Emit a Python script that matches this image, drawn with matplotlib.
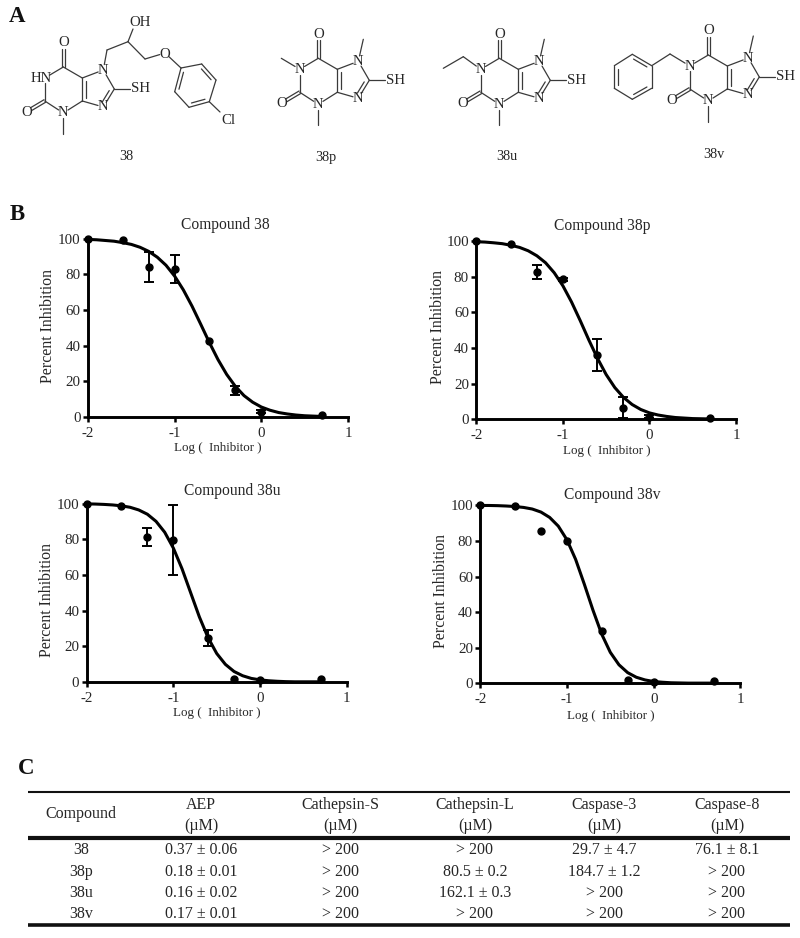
import matplotlib
matplotlib.use('Agg')
import matplotlib.pyplot as plt
import numpy as np

plt.rcParams['font.family'] = ['Liberation Serif', 'DejaVu Serif']
plt.rcParams['axes.unicode_minus'] = False

W, H = 800, 938
INK = '#262626'
LINE_INK = '#3a3a3a'
ATOM_SIZE = 10.6

# --- dose response data ---
compounds = ['38', '38p', '38u', '38v']
log_dose = [-2, -1.6, -1.3, -1, -0.6, -0.3, 0, 0.7]
inhibition = {
    '38': [100, 99.5, 84, 83, 42.5, 15, 3, 1],
    '38p': [100, 98.5, 82.5, 78.5, 36, 6.5, 1.5, 1],
    '38u': [100, 98.5, 81.5, 79.5, 24.5, 1.5, 1, 1.5],
    '38v': [100, 99.5, 85.5, 80, 29.5, 2, 0.5, 1.2],
}
errors = {
    '38': [0, 0, 8.5, 8, 0, 2.5, 1, 0],
    '38p': [0, 0, 4, 1, 9, 6, 1, 0],
    '38u': [0, 0, 5, 19.5, 4.5, 0, 0, 0],
    '38v': [0, 0, 0, 0, 0, 0, 0, 0],
}

# fitted curves, read at every 0.1 log unit from -2 to 0.7
curve_x = [-2.0, -1.9, -1.8, -1.7, -1.6, -1.5, -1.4, -1.3, -1.2, -1.1,
           -1.0, -0.9, -0.8, -0.7, -0.6, -0.5, -0.4, -0.3, -0.2, -0.1,
           0.0, 0.1, 0.2, 0.3, 0.4, 0.5, 0.6, 0.7]
curve_y = {
    '38': [99.6, 99.4, 99.0, 98.6, 97.8, 96.8, 95.2, 92.9, 89.6, 85.1,
           79.0, 71.3, 62.2, 52.1, 41.8, 32.2, 23.9, 17.2, 12.0, 8.3,
           5.6, 3.8, 2.5, 1.7, 1.1, 0.7, 0.5, 0.3],
    '38p': [99.6, 99.4, 99.0, 98.5, 97.6, 96.4, 94.5, 91.7, 87.8, 82.2,
            74.9, 65.8, 55.4, 44.5, 34.2, 25.1, 17.8, 12.3, 8.3, 5.5,
            3.6, 2.4, 1.6, 1.0, 0.7, 0.4, 0.3, 0.2],
    '38u': [99.9, 99.8, 99.6, 99.3, 98.8, 98.0, 96.5, 94.1, 90.1, 84.0,
            75.1, 63.5, 50.0, 36.5, 24.9, 16.0, 9.9, 5.9, 3.5, 2.0,
            1.2, 0.7, 0.4, 0.2, 0.1, 0.1, 0.1, 0.1],
    '38v': [99.9, 99.9, 99.8, 99.6, 99.3, 98.8, 97.9, 96.2, 93.2, 88.3,
            80.6, 69.6, 55.7, 41.1, 27.7, 17.4, 10.4, 6.0, 3.4, 1.9,
            1.0, 0.6, 0.3, 0.2, 0.1, 0.1, 0.1, 0.1],
}

x_ticks = [-2, -1, 0, 1]
y_ticks = [0, 20, 40, 60, 80, 100]

# --- table data ---
table_head = ['AEP', 'Cathepsin-S', 'Cathepsin-L', 'Caspase-3', 'Caspase-8']
table_rows = [
    ['38', '0.37 ± 0.06', '> 200', '> 200', '29.7 ± 4.7', '76.1 ± 8.1'],
    ['38p', '0.18 ± 0.01', '> 200', '80.5 ± 0.2', '184.7 ± 1.2', '> 200'],
    ['38u', '0.16 ± 0.02', '> 200', '162.1 ± 0.3', '> 200', '> 200'],
    ['38v', '0.17 ± 0.01', '> 200', '> 200', '> 200', '> 200'],
]

# --- layout in pixels ---
# left, right, y of 100, y of 0
AXES_BOX = {
    '38': (88, 348, 238.7, 417),
    '38p': (476.3, 736, 241, 419.3),
    '38u': (86.7, 346.7, 503.7, 682),
    '38v': (480.3, 740.3, 505.3, 683.3),
}
# title, xlabel, ylabel centres
LABEL_POS = {
    '38': ((225.5, 225), (218, 448), (47.7, 326)),
    '38p': ((602.3, 226), (606.7, 450.7), (437.7, 326.7)),
    '38u': ((232.7, 490.7), (217.3, 713.3), (47.3, 600)),
    '38v': ((612.3, 495), (610.7, 715.7), (440.7, 590.7)),
}
TABLE_COLS = [81, 201, 340, 475, 604, 727]
TABLE_ROW_Y = [850, 871.7, 892.7, 914]

# xanthine core, pixels relative to C6
CORE = {
    'C6': (0, 0), 'O6': (0, -24), 'N1': (-18.5, 11), 'C2': (-18.5, 34),
    'N3': (0, 46), 'C4': (19, 34), 'C5': (19, 11), 'N7': (40, 3),
    'C8': (51, 22), 'N9': (40, 40), 'SH': (77, 22), 'O2': (-37, 45),
    'Me3': (0, 67), 'Me7': (45, -19), 'Me1': (-37, 0),
}
TRIM = {'N1': 5.5, 'N3': 5.5, 'N7': 5.5, 'N9': 5.5, 'O6': 6, 'O2': 6, 'SH': 10}
CORE_BONDS = [('C6', 'N1'), ('N1', 'C2'), ('C2', 'N3'), ('N3', 'C4'), ('C4', 'C5'),
              ('C5', 'C6'), ('C5', 'N7'), ('N7', 'C8'), ('C8', 'N9'), ('N9', 'C4'),
              ('C8', 'SH'), ('C6', 'O6'), ('C2', 'O2'), ('N3', 'Me3')]

fig = plt.figure(figsize=(W / 100, H / 100), dpi=100, facecolor='white')

over = fig.add_axes([0, 0, 1, 1], zorder=5)
over.set_xlim(0, W)
over.set_ylim(H, 0)
over.axis('off')
over.patch.set_alpha(0)


def put(x, y, s, size=11.5, **kw):
    kw.setdefault('ha', 'center')
    kw.setdefault('va', 'center')
    kw.setdefault('color', INK)
    over.text(x, y, s, fontsize=size, **kw)


def bond(p, q, trim_p=0, trim_q=0, shift=(0, 0)):
    p, q = np.array(p, float), np.array(q, float)
    u = (q - p) / np.hypot(*(q - p))
    a = p + u * trim_p + shift
    b = q - u * trim_q + shift
    over.plot([a[0], b[0]], [a[1], b[1]], color=LINE_INK, lw=0.9, solid_capstyle='round')


def inner(p, q, toward, gap=3.5, cut=3):
    # second line of a double bond, drawn on the side of the point "toward"
    p, q, c = np.array(p, float), np.array(q, float), np.array(toward, float)
    u = (q - p) / np.hypot(*(q - p))
    n = np.array([-u[1], u[0]])
    if np.dot(c - p, n) < 0:
        n = -n
    bond(p + n * gap, q + n * gap, cut, cut)


def core(ox, oy, n1_label='N', methyl_n1=False, methyl_n7=True):
    at = {k: (v[0] + ox, v[1] + oy) for k, v in CORE.items()}
    for a, b in CORE_BONDS:
        if (a, b) in (('C6', 'O6'), ('C2', 'O2')):
            continue
        bond(at[a], at[b], TRIM.get(a, 0), TRIM.get(b, 0))
    # carbonyls
    for a, b in (('C6', 'O6'), ('C2', 'O2')):
        p, q = np.array(at[a]), np.array(at[b])
        u = (q - p) / np.hypot(*(q - p))
        n = np.array([-u[1], u[0]]) * 1.5
        bond(p, q, 0, TRIM[b], shift=n)
        bond(p, q, 0, TRIM[b], shift=-n)
    inner(at['C4'], at['C5'], at['C8'])
    inner(at['C8'], at['N9'], at['C5'], cut=4)
    if methyl_n1:
        bond(at['N1'], at['Me1'], TRIM['N1'], 0)
    if methyl_n7:
        bond(at['N7'], at['Me7'], TRIM['N7'], 0)
    for k in ('N3', 'N7', 'N9'):
        put(*at[k], 'N', size=ATOM_SIZE)
    if n1_label == 'N':
        put(*at['N1'], 'N', size=ATOM_SIZE)
    else:
        put(at['N1'][0] - 4, at['N1'][1], n1_label, size=ATOM_SIZE)
    put(*at['O6'], 'O', size=ATOM_SIZE)
    put(*at['O2'], 'O', size=ATOM_SIZE)
    put(at['SH'][0] + 0.5, at['SH'][1], 'SH', size=ATOM_SIZE)
    return at


def ring(pts, inner_sides):
    centre = np.mean(pts, axis=0)
    for i in range(6):
        bond(pts[i], pts[(i + 1) % 6])
    for i in inner_sides:
        inner(pts[i], pts[(i + 1) % 6], centre, cut=3.5)


# panel A, structures
at38 = core(63.3, 67, n1_label='HN', methyl_n7=False)
chain = [(107, 50), (128, 41.7), (145, 59), (165, 53), (181, 68)]
bond(at38['N7'], chain[0], TRIM['N7'], 0)
bond(chain[0], chain[1])
bond(chain[1], (133, 29))
bond(chain[1], chain[2])
bond(chain[2], chain[3], 0, 5.5)
bond(chain[3], chain[4], 5.5, 0)
put(140, 22, 'OH', size=ATOM_SIZE)
put(165, 54, 'O', size=ATOM_SIZE)
ring([(181, 68), (201.7, 64), (216, 80), (209.3, 101.7), (189, 107.3), (174.7, 91.7)], [1, 3, 5])
bond((209.3, 101.7), (220, 112))
put(228, 120, 'Cl', size=ATOM_SIZE)

core(318.3, 58.3, methyl_n1=True)

at38u = core(499.3, 58.3)
bond(at38u['N1'], (463.3, 56.7), TRIM['N1'], 0)
bond((463.3, 56.7), (443.3, 68.3))

at38v = core(708.3, 55)
bond(at38v['N1'], (670, 54), TRIM['N1'], 0)
bond((670, 54), (651.7, 65.7))
ring([(651.7, 65.7), (632.3, 54.3), (614.3, 65.7), (614.3, 88.3), (632.3, 99.3), (651.7, 88.3)], [0, 2, 4])

for name, (x, y) in zip(compounds, [(126, 157), (326, 157), (507, 157), (714, 154)]):
    put(x, y, name, size=10.3)

put(17, 17, 'A', size=16.5, fontweight='bold', color='#111111')
put(17, 214, 'B', size=16.5, fontweight='bold', color='#111111')
put(26, 769, 'C', size=16.5, fontweight='bold', color='#111111')

# panel B, dose response curves
for name in compounds:
    left, right, top, bottom = AXES_BOX[name]
    ax = fig.add_axes([left / W, 1 - bottom / H, (right - left) / W, (bottom - top) / H])
    ax.plot(curve_x, curve_y[name], color='black', lw=2.2, solid_joinstyle='round', clip_on=False)
    ax.plot(log_dose, inhibition[name], 'o', color='black', ms=5, clip_on=False, zorder=4)
    has_err = [i for i, e in enumerate(errors[name]) if e > 0]
    if has_err:
        ax.errorbar([log_dose[i] for i in has_err], [inhibition[name][i] for i in has_err],
                    yerr=[errors[name][i] for i in has_err], fmt='none', ecolor='black',
                    elinewidth=1.4, capsize=3.5, capthick=1.4, clip_on=False, zorder=4)
    ax.set_xlim(-2, 1)
    ax.set_ylim(0, 100)
    ax.set_xticks(x_ticks)
    ax.set_yticks(y_ticks)
    ax.patch.set_alpha(0)
    ax.spines['top'].set_visible(False)
    ax.spines['right'].set_visible(False)
    ax.spines['left'].set_linewidth(2.1)
    ax.spines['bottom'].set_linewidth(2.1)
    ax.tick_params(length=3.8, width=1.8, labelsize=10.8, labelcolor=INK)
    ax.tick_params(axis='x', pad=3.5)
    ax.tick_params(axis='y', pad=1.5)
    title_at, xlabel_at, ylabel_at = LABEL_POS[name]
    put(*title_at, 'Compound ' + name, size=11.2)
    put(*xlabel_at, 'Log (  Inhibitor )', size=9.4)
    put(*ylabel_at, 'Percent Inhibition', size=11.4, rotation=90)

# panel C, table
for y, lw in ((791.7, 1.5), (838, 3), (925, 2.6)):
    over.plot([28, 790], [y, y], color='#111111', lw=lw, solid_capstyle='butt')

put(TABLE_COLS[0], 814, 'Compound')
for x, head in zip(TABLE_COLS[1:], table_head):
    put(x, 805, head)
    put(x, 826, '(µM)')
for y, row in zip(TABLE_ROW_Y, table_rows):
    for x, cell in zip(TABLE_COLS, row):
        put(x, y, cell)

fig.savefig('out.png', dpi=100)
